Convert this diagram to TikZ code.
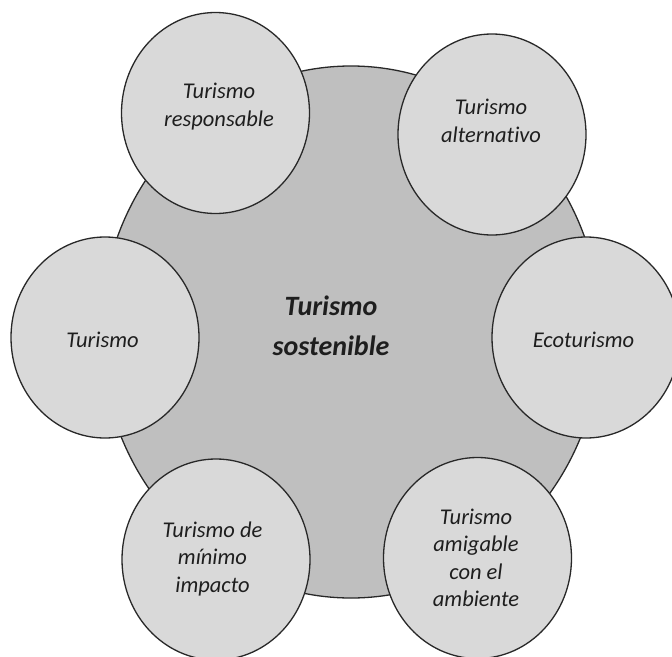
\documentclass[tikz,border=0pt]{standalone}
\usepackage{fontspec}
\setmainfont{Carlito}[Ligatures=NoCommon]
\usetikzlibrary{shapes.geometric}
\definecolor{sostGray}{RGB}{191, 191, 191}
\definecolor{ramaGray}{RGB}{217, 217, 217}
\definecolor{lineGray}{RGB}{40, 40, 40}
\definecolor{textGray}{RGB}{30, 30, 30}

\begin{document}
\begin{tikzpicture}[x=1pt, y=-1pt,
    sostbox/.style={ellipse, draw=lineGray, line width=1.3pt, fill=sostGray, minimum width=500pt, minimum height=532pt, inner sep=0pt, outer sep=0pt},
    ramabox/.style={ellipse, draw=lineGray, line width=1.3pt, fill=ramaGray, minimum width=188pt, minimum height=201pt, inner sep=0pt, outer sep=0pt},
    ramatext/.style={text=textGray, font=\fontsize{22.5}{27.5}\selectfont\itshape, align=center, inner sep=0pt},
    sosttext/.style={text=textGray, font=\fontsize{28}{40}\selectfont\bfseries\itshape, align=center, inner sep=0pt}]
                \useasboundingbox (0,0) rectangle (672,656);
                \node[sostbox] (sost) at (351,332) {};
                \node[sosttext] (sostlabel) at (331,326) {Turismo\\sostenible};
                \node[ramabox] (responsable) at (215.5,113) {};
                \node[ramabox] (alternativo) at (492,134.5) {};
                \node[ramabox] (turismo) at (105,337.5) {};
                \node[ramabox] (eco) at (586,337.5) {};
                \node[ramabox] (minimo) at (216,559.5) {};
                \node[ramabox] (amigable) at (477.5,558) {};
                \node[ramatext] (responsablelabel) at (219,106.5) {Turismo\\responsable};
                \node[ramatext] (alternativolabel) at (491,121) {Turismo\\alternativo};
                \node[ramatext, anchor=base] (turismolabel) at (102.5,347) {Turismo};
                \node[ramatext, anchor=base] (ecolabel) at (583.5,347) {Ecoturismo};
                \node[ramatext] (minimolabel) at (212.5,558.5) {Turismo de\\mínimo\\impacto};
                \node[ramatext] (amigablelabel) at (476,558) {Turismo\\amigable\\con el\\ambiente};
            \end{tikzpicture}
\end{document}
